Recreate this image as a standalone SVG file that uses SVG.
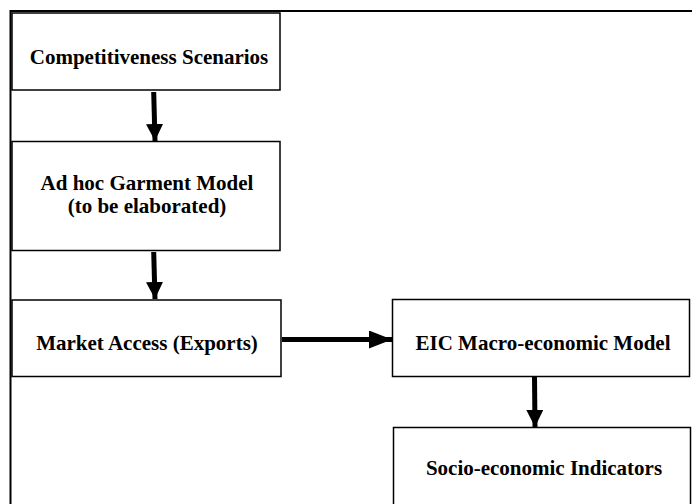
<svg xmlns="http://www.w3.org/2000/svg" width="692" height="504" viewBox="0 0 692 504">
<style>
.box{fill:#fff;stroke:#000;stroke-width:1.5}
.t{font-family:"Liberation Serif","Times New Roman",serif;font-weight:bold;font-size:21px;text-anchor:middle;fill:#000}
.c{stroke:#000;stroke-width:5;fill:none}
</style>
<defs>
<marker id="ah" viewBox="0 0 17 17" refX="17" refY="8.5" markerWidth="17" markerHeight="17" markerUnits="userSpaceOnUse" orient="auto">
<path d="M0,0 L17,8.5 L0,17 z" fill="#000"/>
</marker>
<marker id="ahh" viewBox="0 0 23 18" refX="23" refY="9" markerWidth="23" markerHeight="18" markerUnits="userSpaceOnUse" orient="auto">
<path d="M0,0 L23,9 L0,18 z" fill="#000"/>
</marker>
</defs>
<rect width="692" height="504" fill="#fff"/>
<g id="frame"><path d="M10.5,520 L10.5,11 L692,11" fill="none" stroke="#000" stroke-width="2"/></g>
<g id="n1"><rect class="box" x="12" y="13" width="268" height="77"/><text class="t" x="149" y="64">Competitiveness Scenarios</text></g>
<g id="n2"><rect class="box" x="12" y="141.5" width="268" height="109"/><text class="t" x="147" y="190">Ad hoc Garment Model</text><text class="t" x="147" y="212.5">(to be elaborated)</text></g>
<g id="n3"><rect class="box" x="12" y="300" width="269" height="76.5"/><text class="t" x="147" y="350">Market Access (Exports)</text></g>
<g id="n4"><rect class="box" x="392.5" y="299.5" width="297" height="77"/><text class="t" x="543" y="349.5">EIC Macro-economic Model</text></g>
<g id="n5"><rect class="box" x="393.5" y="427.5" width="297" height="90"/><text class="t" x="544" y="475">Socio-economic Indicators</text></g>
<g id="connectors">
<line class="c" x1="153.7" y1="92" x2="155" y2="141" marker-end="url(#ah)"/>
<line class="c" x1="153.7" y1="252" x2="155" y2="299" marker-end="url(#ah)"/>
<line class="c" x1="282" y1="339.5" x2="392" y2="339.5" marker-end="url(#ahh)"/>
<line class="c" x1="534.5" y1="377" x2="535" y2="427" marker-end="url(#ah)"/>
</g>
</svg>
